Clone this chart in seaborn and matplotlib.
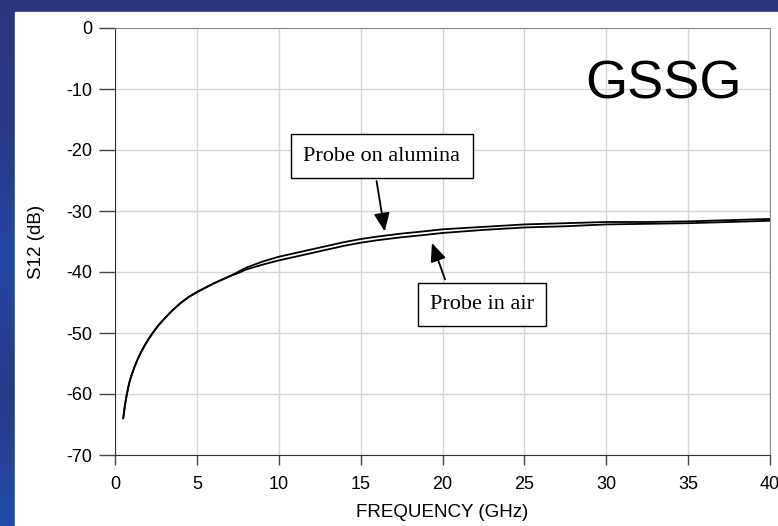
"""
S12 vs frequency for a GSSG probe, on alumina and in air.
"""

import numpy as np
import pandas as pd
import matplotlib.pyplot as plt
import seaborn as sns
from matplotlib.patches import Rectangle

# --- data ---
freq_ghz = [0.5, 0.6, 0.7, 0.8, 0.9, 1.0, 1.2, 1.4, 1.6, 1.8, 2.0, 2.3, 2.6,
            3.0, 3.5, 4.0, 4.5, 5.0, 5.5, 6.0, 6.5, 7.0, 7.5, 8.0, 9.0, 10.0,
            11.0, 12.0, 13.0, 14.0, 15.0, 16.0, 17.5, 19.0, 20.0, 22.5, 25.0,
            27.5, 30.0, 32.5, 35.0, 37.5, 40.0]
s12_alumina = [-64.0, -62.0, -60.4, -59.0, -57.9, -57.0, -55.5, -54.2, -53.1,
               -52.1, -51.2, -50.0, -48.9, -47.7, -46.3, -45.1, -44.1, -43.3,
               -42.6, -41.9, -41.3, -40.7, -40.0, -39.3, -38.3, -37.5, -36.9,
               -36.3, -35.7, -35.1, -34.6, -34.2, -33.7, -33.3, -33.0, -32.6,
               -32.2, -32.0, -31.8, -31.8, -31.7, -31.5, -31.3]
s12_air = [-64.0, -62.0, -60.4, -59.0, -57.9, -57.0, -55.5, -54.2, -53.1,
           -52.1, -51.2, -50.0, -48.9, -47.7, -46.3, -45.1, -44.1, -43.3,
           -42.6, -41.9, -41.3, -40.7, -40.2, -39.6, -38.8, -38.1, -37.5,
           -36.9, -36.3, -35.7, -35.2, -34.8, -34.3, -33.9, -33.6, -33.1,
           -32.7, -32.5, -32.2, -32.1, -32.0, -31.8, -31.6]

x_ticks = [0, 5, 10, 15, 20, 25, 30, 35, 40]
y_ticks = [0, -10, -20, -30, -40, -50, -60, -70]

df = pd.concat([
    pd.DataFrame({"freq": freq_ghz, "s12": s12_alumina, "probe": "Probe on alumina"}),
    pd.DataFrame({"freq": freq_ghz, "s12": s12_air, "probe": "Probe in air"}),
])

sns.set_style("white")
plt.rcParams["font.family"] = ["Liberation Sans", "DejaVu Sans"]
plt.rcParams["axes.unicode_minus"] = False
plt.rcParams["text.color"] = "black"
plt.rcParams["axes.labelcolor"] = "black"
plt.rcParams["xtick.labelcolor"] = "black"
plt.rcParams["ytick.labelcolor"] = "black"

fig = plt.figure(figsize=(7.78, 5.26), dpi=100)

# slide background: blue gradient strip with white panel
bg = fig.add_axes([0, 0, 1, 1], zorder=-10)
grad = np.linspace(0, 1, 256).reshape(-1, 1)
bg.imshow(grad, aspect="auto", extent=[0, 1, 0, 1],
          cmap=sns.blend_palette(["#2c357f", "#2a3a88", "#1f48a0", "#2a3a88", "#1d4ca6"],
                                 as_cmap=True))
bg.add_patch(Rectangle((15 / 778, 0), 1, 1 - 12 / 526, color="white"))
bg.set_axis_off()

ax = fig.add_axes([115 / 778, 71 / 526, 655 / 778, 427 / 526])
sns.lineplot(data=df, x="freq", y="s12", hue="probe",
             palette={"Probe on alumina": "black", "Probe in air": "black"},
             linewidth=1.3, legend=False, ax=ax)

ax.set_xlim(0, 40)
ax.set_ylim(-70, 0)
ax.set_xticks(x_ticks)
ax.set_yticks(y_ticks)
ax.grid(True, color="#d4d4d4", linewidth=1)
ax.set_axisbelow(True)

for side in ["top", "right"]:
    ax.spines[side].set_color("#8a8a8a")
for side in ["left", "bottom"]:
    ax.spines[side].set_color("#333333")
ax.tick_params(axis="y", direction="out", length=11.5, width=1, color="#444444",
               labelsize=13, pad=5, left=True)
ax.tick_params(axis="x", direction="out", length=7, width=1, color="#444444",
               labelsize=13, pad=8, bottom=True)

ax.set_xlabel("FREQUENCY (GHz)", fontsize=13.5, labelpad=8)
ax.set_ylabel("S12 (dB)", fontsize=13.5, labelpad=15)

ax.text(33.5, -9.3, "GSSG", fontsize=39, ha="center", va="center", color="black")

box = dict(boxstyle="square,pad=0.55", fc="white", ec="black", lw=1)
ax.annotate("Probe on alumina", xy=(16.5, -33.8), xytext=(16.3, -21.0),
            fontsize=16, family=["Liberation Serif", "DejaVu Serif"],
            ha="center", va="center", bbox=box,
            arrowprops=dict(arrowstyle="-|>,head_length=0.7,head_width=0.3",
                            color="black", lw=1.3, relpos=(0.45, 0)))
ax.annotate("Probe in air", xy=(19.3, -34.8), xytext=(22.4, -45.3),
            fontsize=16, family=["Liberation Serif", "DejaVu Serif"],
            ha="center", va="center", bbox=box,
            arrowprops=dict(arrowstyle="-|>,head_length=0.7,head_width=0.3",
                            color="black", lw=1.3, relpos=(0.2, 1)))

fig.savefig("out.png", dpi=100)
